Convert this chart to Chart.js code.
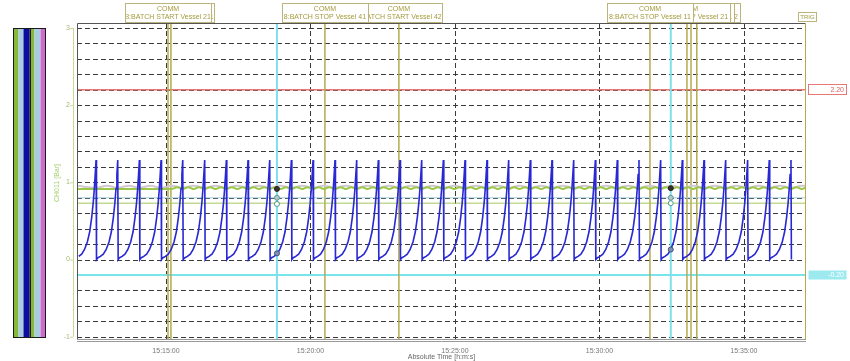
<!DOCTYPE html>
<html><head><meta charset="utf-8">
<script src="https://cdn.jsdelivr.net/npm/chart.js@4/dist/chart.umd.min.js"></script>
<style>html,body{margin:0;padding:0;background:#fff;overflow:hidden}</style>
</head><body>
<canvas id="c" width="850" height="361"></canvas>
<script>
// ---- data (time in minutes after 15:00:00) ----
const xTicks = [15, 20, 25, 30, 35];
const yTicks = [3, 2, 1, 0, -1];
const peakTimes = [12.58,13.33,14.08,14.83,15.58,16.34,17.09,17.84,18.59,19.34,20.09,20.85,21.60,22.35,23.10,23.85,24.60,25.35,26.11,26.86,27.61,28.36,29.11,29.86,30.62,31.37,32.12,32.87,33.62,34.37,35.13,35.88,36.63];
const peakValues = [1.29,1.29,1.29,1.29,1.29,1.29,1.29,1.29,1.29,1.29,1.29,1.29,1.29,1.29,1.29,1.29,1.29,1.29,1.29,1.29,1.29,1.29,1.29,1.29,1.29,1.29,1.29,1.29,1.29,1.29,1.29,1.29,1.29];
// one charging cycle: minutes before each peak and level
const riseLead   = [0.70, 0.60, 0.50, 0.40, 0.30, 0.22, 0.15, 0.10, 0.06, 0.03];
const riseLevels = [0.02, 0.04, 0.07, 0.13, 0.23, 0.36, 0.55, 0.73, 0.92, 1.10];
const dropLag = 0.015, dropLevel = 0.0;
const greenStart = 15.10;
const greenFlat = 0.915, greenHigh = 0.935, greenLow = 0.915;
const grayHigh = 0.955, grayLow = 0.93;
const lightBlueValue = 0.80;
const oliveValue = 0.73;
const xMin = 11.92, xMax = 37.15;
const limitHigh = 2.20, limitLow = -0.20;
const eventTimes = [15.07, 15.17, 20.50, 23.06, 31.75, 33.03, 33.17, 33.37];
const eventTexts = ['8:BATCH START Vessel 21','8:BATCH START Vessel 21','8:BATCH STOP Vessel 41','8:BATCH START Vessel 42','8:BATCH STOP Vessel 11','8:BATCH STOP Vessel 21','8:BATCH STOP Vessel 21','8:BATCH STOP Vessel 22'];
const cursorTimes = [18.84, 32.47];
const cursorGreen = [0.915, 0.925];
const cursorLightBlue = [0.80, 0.80];
const cursorOlive = [0.72, 0.73];
const cursorBlue = [0.08, 0.13];
const legendColors = ['#86b83c','#a8cce0','#0c0ca0','#1a1a1a','#86b83c','#a8cce0','#cc6ccc'];
const legendWidths = [4.5, 5, 6, 1.5, 3.5, 6, 5];

// ---- build tables ----
const bluePts = [];
peakTimes.forEach((t, i) => {
  riseLead.forEach((d, j) => { if (t - d >= xMin - 0.01) bluePts.push({x: t - d, y: riseLevels[j]}); });
  bluePts.push({x: t, y: peakValues[i]});
  bluePts.push({x: t + dropLag, y: dropLevel});
});
const greenPts = [{x: xMin, y: greenFlat}, {x: greenStart, y: greenFlat}];
peakTimes.forEach(t => {
  [[t, greenLow], [t + 0.19, greenHigh], [t + 0.375, greenLow], [t + 0.56, greenHigh]].forEach(([px, v]) => {
    if (px > greenStart && px < xMax) greenPts.push({x: px, y: v});
  });
});
greenPts.push({x: xMax, y: greenHigh});
const grayPts = [{x: xMin, y: grayHigh}];
peakTimes.forEach(t => { grayPts.push({x: t, y: grayLow}); if (t + 0.375 < xMax) grayPts.push({x: t + 0.375, y: grayHigh}); });
grayPts.push({x: xMax, y: grayHigh});
const flat = v => [{x: xMin, y: v}, {x: xMax, y: v}];
const xy = (xs, ys) => xs.map((x, i) => ({x, y: ys[i]}));

const FONT = '"Liberation Sans", Arial, sans-serif';

const deco = {
  id: 'deco',
  beforeDraw(chart) {
    const {ctx, chartArea: a, scales: {x, y}} = chart;
    ctx.save();
    ctx.fillStyle = '#fff';
    ctx.fillRect(0, 0, chart.width, chart.height);
    ctx.strokeStyle = '#3a3a3a'; ctx.lineWidth = 1; ctx.setLineDash([5, 3]);
    for (let k = 0; k <= 20; k++) {
      const v = -1 + k * 0.2;
      const py = Math.round(y.getPixelForValue(v)) + 0.5;
      ctx.beginPath(); ctx.moveTo(a.left, py); ctx.lineTo(a.right, py); ctx.stroke();
    }
    xTicks.forEach(t => {
      const px = Math.round(x.getPixelForValue(t)) + 0.5;
      ctx.beginPath(); ctx.moveTo(px, a.top); ctx.lineTo(px, a.bottom); ctx.stroke();
    });
    ctx.setLineDash([]);
    ctx.lineWidth = 1.5;
    ctx.strokeStyle = '#e87878';
    let py = y.getPixelForValue(limitHigh);
    ctx.beginPath(); ctx.moveTo(a.left, py); ctx.lineTo(a.right, py); ctx.stroke();
    ctx.strokeStyle = '#78e4ec'; ctx.lineWidth = 2;
    py = y.getPixelForValue(limitLow);
    ctx.beginPath(); ctx.moveTo(a.left, py); ctx.lineTo(a.right, py); ctx.stroke();
    ctx.strokeStyle = '#b4aa50'; ctx.lineWidth = 1.5;
    eventTimes.forEach(t => {
      const px = x.getPixelForValue(t);
      ctx.beginPath(); ctx.moveTo(px, a.top); ctx.lineTo(px, a.bottom); ctx.stroke();
    });
    ctx.strokeStyle = '#7ee0ea'; ctx.lineWidth = 2;
    cursorTimes.forEach(t => {
      const px = x.getPixelForValue(t);
      ctx.beginPath(); ctx.moveTo(px, a.top); ctx.lineTo(px, a.bottom); ctx.stroke();
    });
    ctx.restore();
  },
  afterDraw(chart) {
    const {ctx, chartArea: a, scales: {x, y}} = chart;
    ctx.save();
    ctx.strokeStyle = '#555'; ctx.lineWidth = 1;
    ctx.beginPath(); ctx.moveTo(a.left + 0.5, a.bottom); ctx.lineTo(a.left + 0.5, a.top + 0.5); ctx.lineTo(a.right, a.top + 0.5); ctx.stroke();
    ctx.strokeStyle = '#999';
    ctx.beginPath(); ctx.moveTo(a.left, a.bottom + 0.5); ctx.lineTo(a.right, a.bottom + 0.5); ctx.stroke();
    ctx.beginPath(); ctx.moveTo(a.left, a.bottom + 2.5); ctx.lineTo(a.right, a.bottom + 2.5); ctx.stroke();
    ctx.strokeStyle = '#b4aa50';
    ctx.beginPath(); ctx.moveTo(a.right - 0.5, a.top); ctx.lineTo(a.right - 0.5, a.bottom); ctx.stroke();
    ctx.strokeStyle = '#c8d898'; ctx.lineWidth = 1;
    ctx.beginPath(); ctx.moveTo(73.5, y.getPixelForValue(3)); ctx.lineTo(73.5, y.getPixelForValue(-1)); ctx.stroke();
    ctx.font = '7px ' + FONT; ctx.fillStyle = '#a8b878'; ctx.textAlign = 'right'; ctx.textBaseline = 'middle';
    yTicks.forEach(v => {
      const py = y.getPixelForValue(v);
      ctx.fillText(String(v), 70, py);
      ctx.beginPath(); ctx.moveTo(70, py + 0.5); ctx.lineTo(73, py + 0.5); ctx.stroke();
    });
    ctx.save();
    ctx.translate(57, (a.top + a.bottom) / 2 + 2); ctx.rotate(-Math.PI / 2);
    ctx.textAlign = 'center'; ctx.fillStyle = '#a8d070'; ctx.font = '7px ' + FONT;
    ctx.fillText('CH011 [Bar]', 0, 0);
    ctx.restore();
    ctx.fillStyle = '#777'; ctx.textAlign = 'center'; ctx.textBaseline = 'middle'; ctx.font = '7px ' + FONT;
    xTicks.forEach(t => {
      const m = Math.floor(t), s = Math.round((t - m) * 60);
      ctx.fillText('15:' + String(m).padStart(2, '0') + ':' + String(s).padStart(2, '0'), x.getPixelForValue(t), 351);
    });
    ctx.fillStyle = '#666';
    ctx.fillText('Absolute Time [h:m:s]', (a.left + a.right) / 2, 357.5);
    // legend bars
    const ly = Math.round(y.getPixelForValue(3)), lh = Math.round(y.getPixelForValue(-1)) - ly;
    let lx = 14;
    legendColors.forEach((c, i) => {
      ctx.fillStyle = c; ctx.fillRect(lx, ly, legendWidths[i], lh);
      lx += legendWidths[i];
    });
    ctx.strokeStyle = '#1a1a1a'; ctx.lineWidth = 1;
    ctx.strokeRect(13.5, ly + 0.5, lx - 13.5, lh);
    // event boxes (drawn right to left so the left ones sit on top)
    for (let i = eventTimes.length - 1; i >= 0; i--) {
      const cx = x.getPixelForValue(eventTimes[i]);
      const bx = Math.round(cx - 43) + 0.5, bw = 86, by = 3.5, bh = 19;
      ctx.fillStyle = '#fff'; ctx.fillRect(bx, by, bw, bh);
      ctx.strokeStyle = '#bcb47a'; ctx.lineWidth = 1; ctx.strokeRect(bx, by, bw, bh);
      ctx.save();
      ctx.beginPath(); ctx.rect(bx + 1, by, bw - 2, bh); ctx.clip();
      ctx.fillStyle = '#a49a3a'; ctx.font = '7px ' + FONT; ctx.textAlign = 'center'; ctx.textBaseline = 'middle';
      ctx.fillText('COMM', cx, by + 6);
      ctx.fillText(eventTexts[i], cx, by + 13.5);
      ctx.restore();
    }
    ctx.strokeStyle = '#bcb47a'; ctx.strokeRect(798.5, 12.5, 18, 9);
    ctx.fillStyle = '#a49a3a'; ctx.font = '6px ' + FONT; ctx.textAlign = 'center';
    ctx.fillText('TRIG', 807.5, 17.5);
    let py = Math.round(y.getPixelForValue(limitHigh));
    ctx.fillStyle = '#fff'; ctx.fillRect(808.5, py - 5.5, 38, 10);
    ctx.strokeStyle = '#e87878'; ctx.strokeRect(808.5, py - 5.5, 38, 10);
    ctx.fillStyle = '#e06060'; ctx.textAlign = 'right'; ctx.font = '7px ' + FONT;
    ctx.fillText(limitHigh.toFixed(2), 844, py);
    py = Math.round(y.getPixelForValue(limitLow));
    ctx.fillStyle = '#9ceaf0'; ctx.fillRect(808.5, py - 4.5, 38, 9);
    ctx.fillStyle = '#fff';
    ctx.fillText(limitLow.toFixed(2), 844, py);
    ctx.restore();
  }
};

new Chart(document.getElementById('c'), {
  type: 'line',
  data: {
    datasets: [
      {data: xy(cursorTimes, cursorGreen), showLine: false, pointRadius: 2.5, pointBackgroundColor: '#333', pointBorderColor: '#222', pointBorderWidth: 1},
      {data: xy(cursorTimes, cursorLightBlue), showLine: false, pointRadius: 2.5, pointBackgroundColor: '#b8c8c8', pointBorderColor: '#5a9a9a', pointBorderWidth: 1},
      {data: xy(cursorTimes, cursorOlive), showLine: false, pointRadius: 2.5, pointBackgroundColor: '#fff', pointBorderColor: '#4a9a8a', pointBorderWidth: 1},
      {data: xy(cursorTimes, cursorBlue), showLine: false, pointRadius: 2.5, pointBackgroundColor: '#8090b0', pointBorderColor: '#405080', pointBorderWidth: 1},
      {data: bluePts, borderColor: '#2828d4', borderWidth: 1.6, pointRadius: 0, tension: 0},
      {data: greenPts, borderColor: '#9cc848', borderWidth: 2, pointRadius: 0, tension: 0.4},
      {data: grayPts, borderColor: '#d2c8d2', borderWidth: 2, pointRadius: 0, tension: 0.4},
      {data: flat(lightBlueValue), borderColor: '#a6d2e2', borderWidth: 1, pointRadius: 0},
      {data: flat(oliveValue), borderColor: '#a4c85a', borderWidth: 1, pointRadius: 0}
    ]
  },
  options: {
    responsive: false, animation: false, devicePixelRatio: 1,
    layout: {padding: {left: 50, right: 44, top: 23, bottom: 0}},
    plugins: {legend: {display: false}, tooltip: {enabled: false}},
    scales: {
      x: {type: 'linear', min: xMin, max: xMax, grid: {display: false}, border: {display: false}, ticks: {display: false},
          afterFit: s => { s.height = 22; }},
      y: {min: -1.03, max: 3.065, grid: {display: false}, border: {display: false}, ticks: {display: false},
          afterFit: s => { s.width = 27; }}
    }
  },
  plugins: [deco]
});
</script>
</body></html>
